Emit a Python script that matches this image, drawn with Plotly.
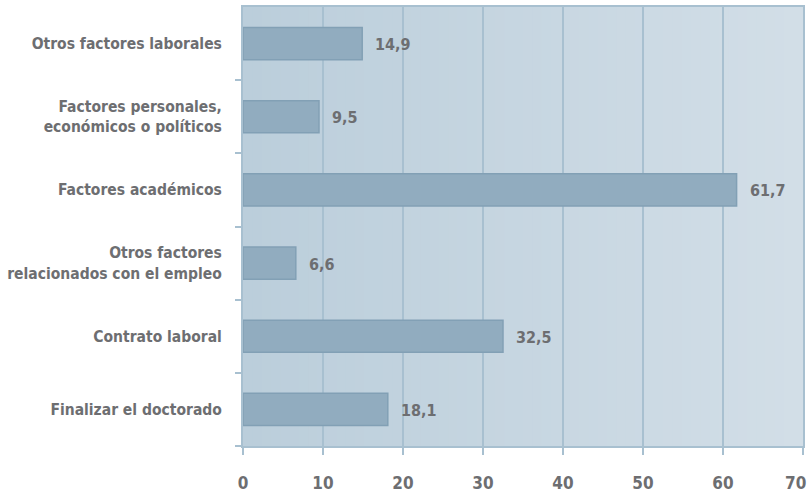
import plotly.graph_objects as go

# Motivos (porcentaje)
categorias = [
    "Otros factores laborales",
    "Factores personales,<br>económicos o políticos",
    "Factores académicos",
    "Otros factores<br>relacionados con el empleo",
    "Contrato laboral",
    "Finalizar el doctorado",
]
valores = [14.9, 9.5, 61.7, 6.6, 32.5, 18.1]
etiquetas = ["14,9", "9,5", "61,7", "6,6", "32,5", "18,1"]
ticks_x = [0, 10, 20, 30, 40, 50, 60, 70]

FONT = "DejaVu Sans Condensed, Roboto, sans-serif"
GRIS = "#6d6e71"
LINEA = "#a8c0d0"

fig = go.Figure()
fig.add_trace(go.Bar(
    y=categorias,
    x=valores,
    orientation="h",
    width=0.44,
    marker=dict(color="#91acbf", line=dict(color="#82a0b5", width=1.5)),
    hoverinfo="skip",
))

# value labels to the right of each bar
for cat, v, t in zip(categorias, valores, etiquetas):
    fig.add_annotation(x=v, y=cat, text=f"<b>{t}</b>", showarrow=False,
                       xanchor="left", xshift=11, yshift=-1,
                       font=dict(family=FONT, size=16, color=GRIS))

# horizontal gradient in the plotting area
n = 60
c0 = (0xbb, 0xce, 0xdb)
c1 = (0xd2, 0xde, 0xe7)
for i in range(n):
    f = i / (n - 1)
    col = "rgb(%d,%d,%d)" % tuple(round(a + (b - a) * f) for a, b in zip(c0, c1))
    fig.add_shape(type="rect", xref="x domain", yref="y domain",
                  x0=i / n, x1=(i + 1) / n + 0.002, y0=0, y1=1,
                  fillcolor=col, line=dict(width=0), layer="below")

# last tick label nudged left so it stays inside the page
ticktext_x = [f"<b>{v}</b>" for v in ticks_x]
ticktext_x[-1] = ticktext_x[-1] + "&nbsp;&nbsp;&nbsp;"

fig.update_layout(
    width=811, height=496,
    margin=dict(l=243, r=8, t=7, b=50),
    paper_bgcolor="white",
    plot_bgcolor="#c5d5e0",
    showlegend=False,
    bargap=0.56,
    font=dict(family=FONT, color=GRIS),
)
fig.update_xaxes(
    range=[0, 70], tickvals=ticks_x,
    ticktext=ticktext_x,
    tickfont=dict(family=FONT, size=17, color=GRIS),
    showgrid=True, gridcolor=LINEA, gridwidth=1.5,
    zeroline=False,
    showline=True, linecolor=LINEA, linewidth=2, mirror=True,
    ticks="outside", ticklen=7, tickcolor=LINEA, tickwidth=1.5,
    ticklabelstandoff=14,
    ticklabeloverflow="allow",
    automargin=False,
    fixedrange=True,
)
fig.update_yaxes(
    categoryorder="array", categoryarray=categorias[::-1],
    tickvals=categorias,
    ticktext=[f"<b>{c}</b>" for c in categorias],
    tickfont=dict(family=FONT, size=15.5, color=GRIS),
    showgrid=False,
    showline=True, linecolor=LINEA, linewidth=2, mirror=True,
    ticks="outside", tickson="boundaries", ticklen=6, tickcolor=LINEA, tickwidth=1.5,
    ticklabelstandoff=16,
    automargin=False,
    fixedrange=True,
)

fig.write_html("out.html")
